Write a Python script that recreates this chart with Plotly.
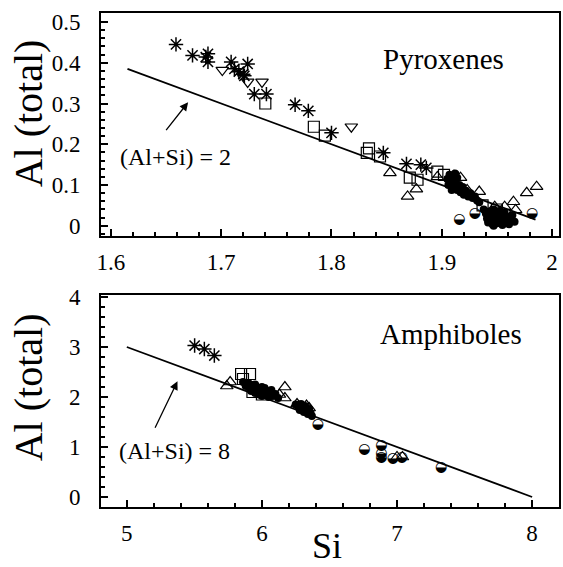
import plotly.graph_objects as go

# ---------------- Pyroxenes (top) ----------------
px_star_si = [1.659, 1.674, 1.686, 1.688, 1.688, 1.709, 1.712, 1.716, 1.720, 1.724, 1.721, 1.730, 1.741,
              1.767, 1.779, 1.800, 1.847, 1.868, 1.881, 1.886, 1.911]
px_star_al = [0.445, 0.418, 0.414, 0.422, 0.402, 0.402, 0.385, 0.378, 0.372, 0.397, 0.368, 0.323, 0.323,
              0.297, 0.282, 0.228, 0.179, 0.152, 0.150, 0.142, 0.120]
px_sq_si = [1.740, 1.784, 1.794, 1.832, 1.834, 1.844, 1.871, 1.878, 1.896, 1.902, 1.937, 1.950]
px_sq_al = [0.300, 0.243, 0.221, 0.179, 0.190, 0.170, 0.118, 0.113, 0.133, 0.125, 0.050, 0.040]
px_dn_si = [1.701, 1.724, 1.737, 1.818]
px_dn_al = [0.382, 0.353, 0.353, 0.243]
px_up_si = [1.853, 1.869, 1.877, 1.896, 1.917, 1.923, 1.934, 1.948, 1.957, 1.965, 1.967, 1.977, 1.986]
px_up_al = [0.130, 0.072, 0.090, 0.120, 0.118, 0.088, 0.084, 0.047, 0.047, 0.059, 0.039, 0.081, 0.096]
px_half_si = [1.916, 1.930, 1.982]
px_half_al = [0.015, 0.031, 0.031]
px_fill_si = [1.905, 1.907, 1.908, 1.910, 1.910, 1.912, 1.912, 1.914, 1.914, 1.916, 1.917, 1.919, 1.920,
              1.922, 1.924, 1.926, 1.928, 1.930, 1.932, 1.934, 1.906, 1.909,
              1.938, 1.940, 1.941, 1.943, 1.944, 1.945, 1.946, 1.947, 1.948, 1.949, 1.950, 1.951, 1.952,
              1.953, 1.954, 1.955, 1.956, 1.957, 1.958, 1.960, 1.961, 1.962, 1.964, 1.966, 1.942, 1.947]
px_fill_al = [0.115, 0.125, 0.105, 0.118, 0.095, 0.128, 0.108, 0.088, 0.118, 0.100, 0.082, 0.095, 0.076,
              0.086, 0.072, 0.080, 0.068, 0.072, 0.062, 0.058, 0.100, 0.088,
              0.040, 0.030, 0.018, 0.035, 0.010, 0.025, 0.004, 0.040, 0.016, 0.028, 0.006, 0.020, 0.036,
              0.012, 0.026, 0.002, 0.018, 0.032, 0.010, 0.022, 0.004, 0.014, 0.026, 0.010, 0.008, 0.000]
px_line_si = [1.615, 1.985]
px_sum = 2

# ---------------- Amphiboles (bottom) ----------------
am_star_si = [5.502, 5.574, 5.648]
am_star_al = [3.03, 2.96, 2.83]
am_sq_si = [5.846, 5.912, 5.860, 6.000, 5.930]
am_sq_al = [2.46, 2.46, 2.36, 2.05, 2.10]
am_up_si = [5.765, 5.740, 6.170, 6.170, 6.130, 6.260, 6.330, 6.350, 7.000, 7.040]
am_up_al = [2.30, 2.22, 2.20, 1.98, 2.05, 1.86, 1.83, 1.78, 0.80, 0.80]
am_half_si = [6.414, 6.758, 6.885, 6.885, 6.885, 6.970, 7.035, 7.326]
am_half_al = [1.455, 0.945, 1.02, 0.87, 0.79, 0.76, 0.79, 0.58]
am_fill_si = [5.86, 5.88, 5.90, 5.91, 5.92, 5.93, 5.94, 5.95, 5.96, 5.97, 5.98, 5.99, 6.00, 6.01, 6.02,
              6.03, 6.04, 6.05, 6.06, 6.07, 6.08, 6.10, 6.12, 5.95, 6.00,
              6.25, 6.27, 6.28, 6.29, 6.30, 6.31, 6.32, 6.33, 6.34, 6.35, 6.36, 6.37]
am_fill_al = [2.30, 2.22, 2.28, 2.18, 2.12, 2.24, 2.15, 2.08, 2.20, 2.12, 2.05, 2.16, 2.02, 2.10, 2.18,
              2.06, 2.12, 2.00, 2.08, 2.14, 2.02, 2.06, 1.98, 2.25, 2.20,
              1.85, 1.80, 1.74, 1.86, 1.76, 1.70, 1.82, 1.72, 1.66, 1.76, 1.68, 1.62]
am_line_si = [5.0, 8.0]
am_sum = 8

SERIF = "Liberation Serif"
fig = go.Figure()


def add_panel(xa, ya, star, sq, dn, up, half, fill, line_si, total):
    kw = dict(xaxis=xa, yaxis=ya, showlegend=False, hoverinfo="skip")
    fig.add_trace(go.Scatter(x=line_si, y=[total - s for s in line_si], mode="lines",
                             line=dict(color="black", width=1.8), **kw))
    fig.add_trace(go.Scatter(x=fill[0], y=fill[1], mode="markers",
                             marker=dict(symbol="circle", size=8, color="black"), **kw))
    if sq:
        fig.add_trace(go.Scatter(x=sq[0], y=sq[1], mode="markers",
                                 marker=dict(symbol="square-open", size=11, color="black",
                                             line=dict(width=1.2)), **kw))
    if dn:
        fig.add_trace(go.Scatter(x=dn[0], y=dn[1], mode="markers",
                                 marker=dict(symbol="triangle-down-open", size=11, color="black",
                                             line=dict(width=1.2)), **kw))
    fig.add_trace(go.Scatter(x=up[0], y=up[1], mode="markers",
                             marker=dict(symbol="triangle-up-open", size=11, color="black",
                                         line=dict(width=1.2)), **kw))
    fig.add_trace(go.Scatter(x=star[0], y=star[1], mode="markers",
                             marker=dict(symbol="asterisk-open", size=12, color="black",
                                         line=dict(width=1.5, color="black")), **kw))
    fig.add_trace(go.Scatter(x=half[0], y=half[1], mode="text", text=["◒"] * len(half[0]),
                             textposition="middle center",
                             textfont=dict(family="DejaVu Sans", size=14, color="black"), **kw))


add_panel("x", "y", (px_star_si, px_star_al), (px_sq_si, px_sq_al), (px_dn_si, px_dn_al),
          (px_up_si, px_up_al), (px_half_si, px_half_al), (px_fill_si, px_fill_al), px_line_si, px_sum)
add_panel("x2", "y2", (am_star_si, am_star_al), (am_sq_si, am_sq_al), None,
          (am_up_si, am_up_al), (am_half_si, am_half_al), (am_fill_si, am_fill_al), am_line_si, am_sum)

axis_common = dict(showline=True, linecolor="black", linewidth=2, mirror=True, ticks="inside",
                   ticklen=7, tickwidth=1.5, tickcolor="black", showgrid=False, zeroline=False,
                   tickfont=dict(family=SERIF, size=23, color="black"))
ycommon = dict(ticklabelstandoff=14, **axis_common)
xcommon = dict(ticklabelstandoff=4, **axis_common)

fig.update_layout(
    width=563, height=567, margin=dict(l=101, r=2, t=13, b=60),
    paper_bgcolor="white", plot_bgcolor="white",
    xaxis=dict(domain=[0, 1], range=[1.591, 2.0063], anchor="y",
               tickvals=[1.6, 1.7, 1.8, 1.9, 2.0], ticktext=["1.6", "1.7", "1.8", "1.9", "2"],
               minor=dict(dtick=0.02, ticks="inside", ticklen=4, tickcolor="black"),
               **xcommon),
    yaxis=dict(domain=[0.5486, 1], range=[-0.025, 0.522], anchor="x",
               tickvals=[0, 0.1, 0.2, 0.3, 0.4, 0.5], ticktext=["0", "0.1", "0.2", "0.3", "0.4", "0.5"],
               minor=dict(dtick=0.02, ticks="inside", ticklen=4, tickcolor="black"),
               **ycommon),
    xaxis2=dict(domain=[0, 1], range=[4.809, 8.199], anchor="y2",
                tickvals=[5, 6, 7, 8], ticktext=["5", "6", "7", "8"],
                minor=dict(dtick=0.2, ticks="inside", ticklen=4, tickcolor="black"),
                **xcommon),
    yaxis2=dict(domain=[0, 0.4291], range=[-0.2, 4.04], anchor="x2",
                tickvals=[0, 1, 2, 3, 4], ticktext=["0", "1", "2", "3", "4"],
                minor=dict(dtick=0.2, ticks="inside", ticklen=4, tickcolor="black"),
                **ycommon),
)

ann = [
    dict(text="Pyroxenes", x=1.902, y=0.409, xref="x", yref="y", showarrow=False,
         font=dict(family=SERIF, size=29, color="black")),
    dict(text="Amphiboles", x=7.40, y=3.27, xref="x2", yref="y2", showarrow=False,
         font=dict(family=SERIF, size=29, color="black")),
    dict(text="(Al+Si) = 2", x=1.659, y=0.17, xref="x", yref="y", showarrow=False,
         font=dict(family=SERIF, size=24, color="black")),
    dict(text="(Al+Si) = 8", x=5.35, y=0.925, xref="x2", yref="y2", showarrow=False,
         font=dict(family=SERIF, size=24, color="black")),
    dict(text="", x=1.670, y=0.303, ax=1.649, ay=0.231, xref="x", yref="y", axref="x", ayref="y",
         showarrow=True, arrowhead=2, arrowsize=1.3, arrowwidth=1.3, arrowcolor="black"),
    dict(text="", x=5.375, y=2.314, ax=5.204, ay=1.355, xref="x2", yref="y2", axref="x2", ayref="y2",
         showarrow=True, arrowhead=2, arrowsize=1.3, arrowwidth=1.3, arrowcolor="black"),
    dict(text="Al (total)", x=-0.1565, y=0.7976, xref="paper", yref="paper", textangle=-90,
         showarrow=False, xanchor="center", yanchor="middle",
         font=dict(family=SERIF, size=40, color="black")),
    dict(text="Al (total)", x=-0.1565, y=0.243, xref="paper", yref="paper", textangle=-90,
         showarrow=False, xanchor="center", yanchor="middle",
         font=dict(family=SERIF, size=40, color="black")),
    dict(text="Si", x=0.4935, y=-0.079, xref="paper", yref="paper", showarrow=False,
         xanchor="center", yanchor="middle", font=dict(family=SERIF, size=36, color="black")),
]
fig.update_layout(annotations=ann)

fig.write_html("out.html")
